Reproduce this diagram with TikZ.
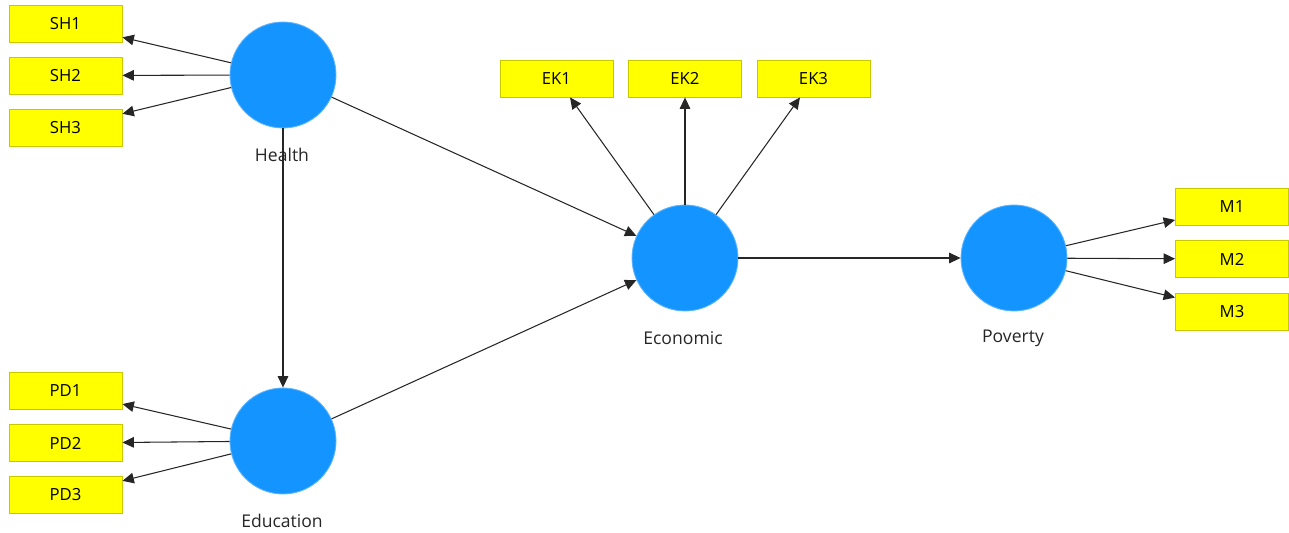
\documentclass[tikz,border=0pt]{standalone}
\usepackage{fontspec}
\setmainfont{Open Sans}
\usetikzlibrary{arrows.meta}

\definecolor{latentblue}{RGB}{20,148,255}
\definecolor{itemyellow}{RGB}{255,255,0}
\definecolor{itemedge}{RGB}{200,200,0}

\begin{document}
\begin{tikzpicture}[x=0.02cm, y=-0.02cm,
  latent/.style={circle, fill=latentblue, draw=latentblue!70!white, line width=0.5pt, minimum size=2.12cm, inner sep=0pt},
  item/.style={rectangle, fill=itemyellow, draw=itemedge, line width=0.5pt, minimum width=2.26cm, minimum height=0.74cm, inner sep=0pt, font=\fontsize{9.5}{11}\selectfont},
  lvname/.style={font=\fontsize{10}{12}\selectfont, text=black!85},
  path/.style={-{Triangle[length=6.5pt,width=6pt]}, line width=0.6pt, black!85}]

\useasboundingbox (0,0) rectangle (1289,533);

% latent variables
\node [latent] (health) at (283,75) {};
\node [latent] (education) at (283,441) {};
\node [latent] (economic) at (685,258) {};
\node [latent] (poverty) at (1014,258) {};

\node [lvname] (healthlbl) at (282,155) {Health};
\node [lvname] (educationlbl) at (282,521) {Education};
\node [lvname] (economiclbl) at (683,338) {Economic};
\node [lvname] (povertylbl) at (1013,338) {Poverty};

% indicators
\node [item] (sh1) at (65.5,24) {SH1};
\node [item] (sh2) at (65.5,75.5) {SH2};
\node [item] (sh3) at (65.5,127.5) {SH3};

\node [item] (pd1) at (65.5,391) {PD1};
\node [item] (pd2) at (65.5,443) {PD2};
\node [item] (pd3) at (65.5,495) {PD3};

\node [item] (ek1) at (556.5,78.5) {EK1};
\node [item] (ek2) at (685,78.5) {EK2};
\node [item] (ek3) at (813.5,78.5) {EK3};

\node [item] (m1) at (1232,206.5) {M1};
\node [item] (m2) at (1232,259) {M2};
\node [item] (m3) at (1232,311.5) {M3};

% outer model
\foreach \i in {1,2,3} {
  \draw [path] (health) -- (sh\i);
  \draw [path] (education) -- (pd\i);
  \draw [path] (economic) -- (ek\i);
  \draw [path] (poverty) -- (m\i);
}

% inner model
\draw [path] (health) -- (education);
\draw [path] (health) -- (economic);
\draw [path] (education) -- (economic);
\draw [path] (economic) -- (poverty);

\end{tikzpicture}
\end{document}
